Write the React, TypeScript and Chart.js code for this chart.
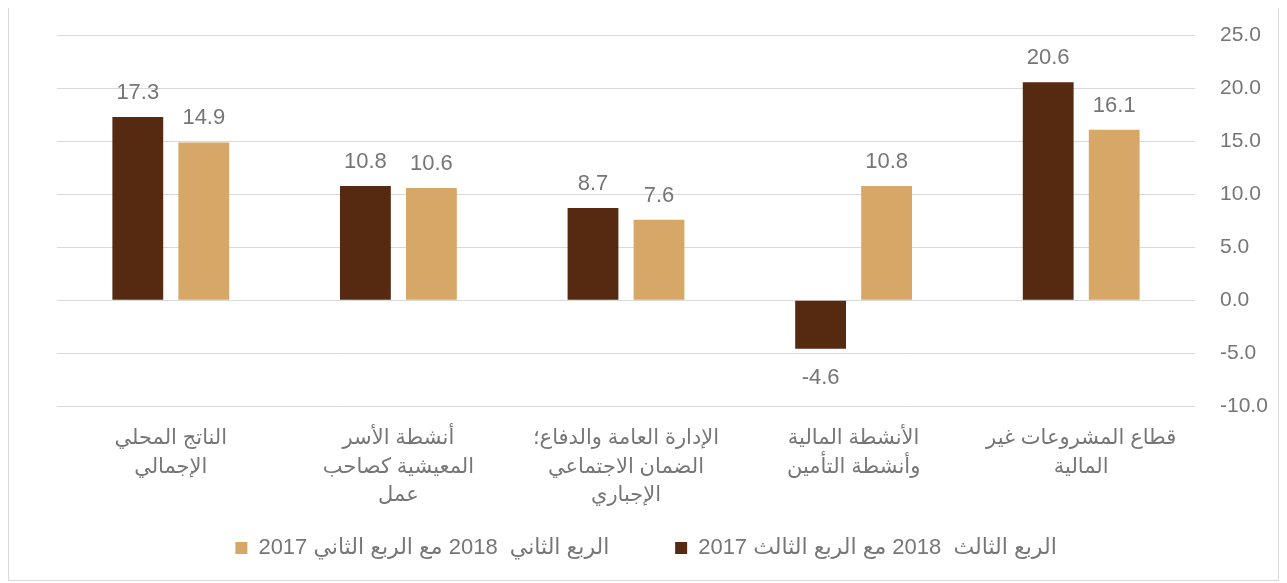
import React, { useEffect, useRef } from 'react';
import { Chart, registerables } from 'chart.js';

Chart.register(...registerables);

const categories: string[][] = [
  ['الناتج المحلي', 'الإجمالي'],
  ['أنشطة الأسر', 'المعيشية كصاحب', 'عمل'],
  ['الإدارة العامة والدفاع؛\u200F', 'الضمان الاجتماعي', 'الإجباري'],
  ['الأنشطة المالية', 'وأنشطة التأمين'],
  ['قطاع المشروعات غير', 'المالية'],
];
const q3Values = [17.3, 10.8, 8.7, -4.6, 20.6];
const q2Values = [14.9, 10.6, 7.6, 10.8, 16.1];
const seriesNames = [
  'الربع الثالث  2018 مع الربع الثالث 2017',
  'الربع الثاني  2018 مع الربع الثاني 2017',
];
const yMin = -10;
const yMax = 25;
const yStep = 5;

const DARK = '#552a11';
const LIGHT = '#d7a767';
const TEXT = '#767676';
const GRID = '#d9d9d9';
const FONT = '"Liberation Sans", "DejaVu Sans", Arial, sans-serif';
const LEGEND_GAP = '       ';

const valueLabels = {
  id: 'valueLabels',
  afterDatasetsDraw(chart: any) {
    const ctx = chart.ctx;
    ctx.save();
    ctx.font = `22px ${FONT}`;
    ctx.fillStyle = TEXT;
    ctx.textAlign = 'center';
    ctx.textBaseline = 'alphabetic';
    chart.data.datasets.forEach((ds: any, di: number) => {
      const meta = chart.getDatasetMeta(di);
      meta.data.forEach((bar: any, i: number) => {
        const v = ds.data[i] as number;
        const text = v.toFixed(1);
        if (v >= 0) {
          ctx.fillText(text, bar.x, bar.y - 18);
        } else {
          ctx.fillText(text, bar.x, bar.y + 35);
        }
      });
    });
    ctx.restore();
  },
};

export default function App() {
  const ref = useRef<HTMLCanvasElement>(null);
  useEffect(() => {
    if (!ref.current) return;
    const chart = new Chart(ref.current, {
      type: 'bar',
      data: {
        labels: categories,
        datasets: [
          {
            label: seriesNames[0],
            data: q3Values,
            backgroundColor: DARK,
            borderWidth: 0,
            categoryPercentage: 0.58,
            barPercentage: 0.77,
          },
          {
            label: seriesNames[1],
            data: q2Values,
            backgroundColor: LIGHT,
            borderWidth: 0,
            categoryPercentage: 0.58,
            barPercentage: 0.77,
          },
        ],
      },
      options: {
        animation: false,
        responsive: true,
        maintainAspectRatio: false,
        layout: { padding: { left: 48, top: 20, right: 0, bottom: 11 } },
        plugins: {
          tooltip: { enabled: false },
          legend: {
            position: 'bottom',
            reverse: true,
            labels: {
              boxWidth: 12,
              boxHeight: 12,
              padding: 23,
              color: TEXT,
              font: { size: 22, family: FONT },
              generateLabels: (c: any) => {
                const items = Chart.defaults.plugins.legend.labels.generateLabels(c);
                return items.map((it: any) => ({ ...it, text: it.text + LEGEND_GAP }));
              },
            },
          },
        },
        scales: {
          x: {
            grid: { display: false },
            border: { display: false },
            ticks: {
              color: TEXT,
              font: { size: 21, family: FONT, lineHeight: 1.36 },
              maxRotation: 0,
              autoSkip: false,
              padding: 10,
            },
            afterFit: (s: any) => {
              s.height = 108;
            },
          },
          y: {
            position: 'right',
            min: yMin,
            max: yMax,
            grid: {
              color: GRID,
              lineWidth: 1,
              drawTicks: true,
              tickLength: 8,
              tickColor: 'rgba(0,0,0,0)',
            },
            border: { display: false },
            ticks: {
              stepSize: yStep,
              color: TEXT,
              font: { size: 21, family: FONT },
              padding: 17,
              callback: (v: any) => Number(v).toFixed(1),
            },
            afterFit: (s: any) => {
              s.width = 83;
            },
          },
        },
      },
      plugins: [valueLabels],
    });
    return () => chart.destroy();
  }, []);
  return (
    <div
      style={{
        width: 1271,
        height: 576,
        marginTop: -3,
        border: '1px solid #d9d9d9',
        boxSizing: 'border-box',
        position: 'relative',
        background: '#fff',
      }}
    >
      <div style={{ position: 'relative', width: '100%', height: '100%' }}>
        <canvas ref={ref} />
      </div>
    </div>
  );
}
